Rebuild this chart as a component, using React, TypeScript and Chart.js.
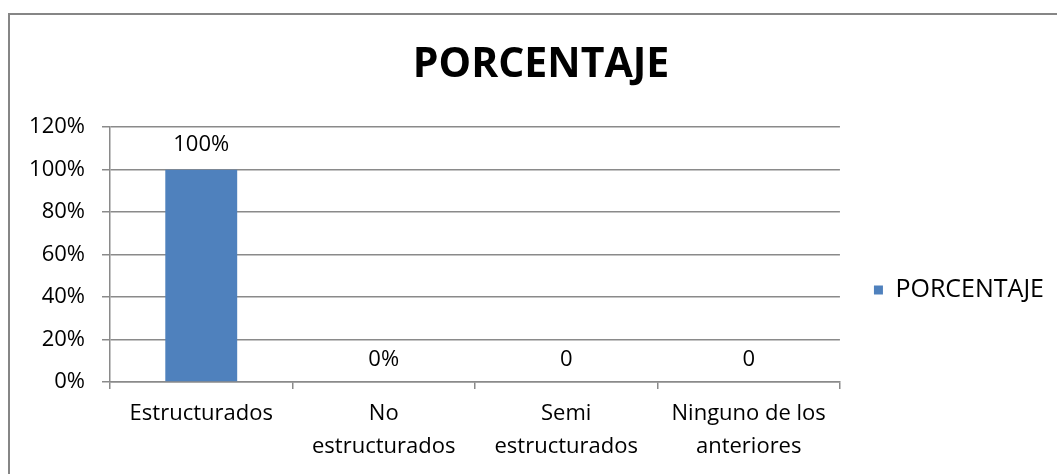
import React, { useEffect, useRef } from "react";
import { Chart, registerables } from "chart.js";

Chart.register(...registerables);

const categories: string[][] = [
  ["Estructurados"],
  ["No", "estructurados"],
  ["Semi", "estructurados"],
  ["Ninguno de los", "anteriores"],
];
const seriesName = "PORCENTAJE";
const values: number[] = [100, 0, 0, 0];
const valueLabels: string[] = ["100%", "0%", "0", "0"];
const yTicks: number[] = [0, 20, 40, 60, 80, 100, 120];

const FONT = "'Open Sans', Lato, sans-serif";
const GRAY = "#8a8a8a";
const BLUE = "#4F81BD";

const borderPlugin = {
  id: "frameBorder",
  beforeDraw(chart: any) {
    const ctx = chart.ctx;
    ctx.save();
    ctx.fillStyle = "#ffffff";
    ctx.fillRect(0, 0, chart.width, chart.height);
    ctx.strokeStyle = "#868686";
    ctx.lineWidth = 2;
    ctx.beginPath();
    ctx.moveTo(9, chart.height + 2);
    ctx.lineTo(9, 14);
    ctx.lineTo(chart.width + 2, 14);
    ctx.stroke();
    ctx.restore();
  },
};

const valueLabelPlugin = {
  id: "valueLabels",
  afterDatasetsDraw(chart: any) {
    const ctx = chart.ctx;
    const meta = chart.getDatasetMeta(0);
    ctx.save();
    ctx.font = `22px ${FONT}`;
    ctx.fillStyle = "#000000";
    ctx.textAlign = "center";
    ctx.textBaseline = "middle";
    meta.data.forEach((bar: any, i: number) => {
      const off = values[i] > 0 ? 25 : 22;
      ctx.fillText(valueLabels[i], bar.x, bar.y - off);
    });
    ctx.restore();
  },
};

export default function App() {
  const canvasRef = useRef<HTMLCanvasElement | null>(null);

  useEffect(() => {
    if (!canvasRef.current) return;
    const chart = new Chart(canvasRef.current, {
      type: "bar",
      data: {
        labels: categories,
        datasets: [
          {
            label: seriesName,
            data: values,
            backgroundColor: BLUE,
            borderWidth: 0,
            categoryPercentage: 1,
            barPercentage: 0.394,
          },
        ],
      },
      options: {
        animation: false,
        responsive: true,
        maintainAspectRatio: false,
        layout: { padding: { top: 20, left: 28, right: 3, bottom: 0 } },
        plugins: {
          title: {
            display: true,
            text: "PORCENTAJE",
            color: "#000000",
            font: { family: FONT, size: 41, weight: "bold", lineHeight: 1.2 },
            padding: { top: 21, bottom: 37 },
          },
          legend: {
            display: true,
            position: "right",
            title: {
              display: true,
              text: " ",
              font: { family: FONT, size: 10, lineHeight: 1.2 },
              padding: { top: 74, bottom: 0 },
            },
            labels: {
              color: "#000000",
              font: { family: FONT, size: 25 },
              boxWidth: 9,
              boxHeight: 9,
              padding: 34,
            },
          },
          tooltip: { enabled: false },
        },
        scales: {
          x: {
            afterFit(scale: any) {
              scale.height = 92;
            },
            grid: {
              display: true,
              drawOnChartArea: false,
              drawTicks: true,
              tickLength: 7,
              color: GRAY,
              lineWidth: 1.5,
              offset: true,
            },
            border: { display: true, color: GRAY, width: 1.5 },
            ticks: {
              color: "#000000",
              font: { family: FONT, size: 22, lineHeight: 1.5 },
              padding: 8,
              maxRotation: 0,
              minRotation: 0,
              autoSkip: false,
            },
          },
          y: {
            min: 0,
            max: 120,
            afterFit(scale: any) {
              scale.width = 82;
            },
            afterBuildTicks(scale: any) {
              scale.ticks = yTicks.map((v) => ({ value: v }));
            },
            grid: {
              color: GRAY,
              lineWidth: 1.5,
              drawTicks: true,
              tickLength: 8,
            },
            border: { display: true, color: GRAY, width: 1.5 },
            ticks: {
              color: "#000000",
              font: { family: FONT, size: 22 },
              padding: 17,
              callback: (v: any) => `${v}%`,
            },
          },
        },
      },
      plugins: [borderPlugin, valueLabelPlugin],
    });
    return () => chart.destroy();
  }, []);

  return (
    <div style={{ position: "fixed", left: 0, top: 0, width: 1057, height: 474 }}>
      <canvas ref={canvasRef} />
    </div>
  );
}
